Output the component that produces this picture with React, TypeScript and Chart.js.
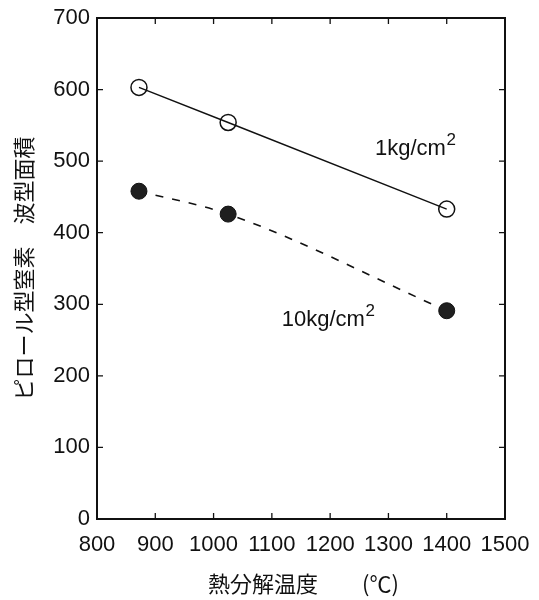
import React, { useEffect, useRef } from 'react';
import { Chart, registerables } from 'chart.js';

Chart.register(...registerables);

// ---- data ----
const temps1kg = [872, 1025, 1400];
const area1kg = [603, 554, 433];
const temps10kg = [872, 1025, 1400];
const area10kg = [458, 426, 291];

const yAxisTitle = 'ピロール型窒素　波型面積';
const xAxisTitle = ' 熱分解温度　　(℃)';

const seriesLabels = ['1kg/cm', '10kg/cm'];
const labelSup = '2';
// label anchor positions in data units (temperature, area)
const labelX = [1277, 1117];
const labelY = [508, 270];

const FONT = "'Liberation Sans', Arial, Helvetica, sans-serif";
const CJK = "'Noto Sans CJK JP', 'Liberation Sans', sans-serif";

const framePlugin = {
  id: 'frameTicks',
  afterDraw(chart: any) {
    const { ctx, chartArea: a, scales } = chart;
    const xs = scales.x;
    const ys = scales.y;
    ctx.save();
    ctx.strokeStyle = '#111';
    ctx.lineWidth = 2;
    ctx.strokeRect(a.left, a.top, a.right - a.left, a.bottom - a.top);
    ctx.lineWidth = 1.3;
    const len = 6;
    ctx.beginPath();
    xs.ticks.forEach((t: any) => {
      const px = xs.getPixelForValue(t.value);
      if (px <= a.left + 1 || px >= a.right - 1) return;
      ctx.moveTo(px, a.bottom);
      ctx.lineTo(px, a.bottom - len);
      ctx.moveTo(px, a.top);
      ctx.lineTo(px, a.top + len);
    });
    ys.ticks.forEach((t: any) => {
      const py = ys.getPixelForValue(t.value);
      if (py <= a.top + 1 || py >= a.bottom - 1) return;
      ctx.moveTo(a.left, py);
      ctx.lineTo(a.left + len, py);
      ctx.moveTo(a.right, py);
      ctx.lineTo(a.right - len, py);
    });
    ctx.stroke();

    // series labels
    ctx.fillStyle = '#111';
    ctx.textBaseline = 'alphabetic';
    ctx.textAlign = 'left';
    seriesLabels.forEach((txt, i) => {
      const px = xs.getPixelForValue(labelX[i]);
      const py = ys.getPixelForValue(labelY[i]);
      ctx.font = `22px ${FONT}`;
      ctx.fillText(txt, px, py);
      const w = ctx.measureText(txt).width;
      ctx.font = `17px ${FONT}`;
      ctx.fillText(labelSup, px + w + 0.5, py - 10);
    });
    ctx.restore();
  },
};

export default function App() {
  const ref = useRef<HTMLCanvasElement | null>(null);

  useEffect(() => {
    document.body.style.margin = '0';
    const canvas = ref.current;
    if (!canvas) return;
    const chart = new Chart(canvas, {
      type: 'scatter',
      data: {
        datasets: [
          {
            label: '1kg/cm2',
            data: temps1kg.map((x, i) => ({ x, y: area1kg[i] })),
            showLine: true,
            borderColor: '#111',
            borderWidth: 1.4,
            backgroundColor: 'rgba(0,0,0,0)',
            pointRadius: 8,
            pointBorderWidth: 1.5,
            pointBorderColor: '#111',
            pointBackgroundColor: 'rgba(0,0,0,0)',
            tension: 0,
          },
          {
            label: '10kg/cm2',
            data: temps10kg.map((x, i) => ({ x, y: area10kg[i] })),
            showLine: true,
            borderColor: '#111',
            borderWidth: 1.6,
            borderDash: [8, 9],
            backgroundColor: '#1a1a1a',
            pointRadius: 8,
            pointBorderWidth: 1,
            pointBorderColor: '#111',
            pointBackgroundColor: '#1f1f1f',
            cubicInterpolationMode: 'monotone',
          },
        ],
      },
      options: {
        responsive: false,
        animation: false,
        events: [],
        layout: { padding: { left: 0, top: 18, right: 34, bottom: 0 } },
        plugins: {
          legend: { display: false },
          tooltip: { enabled: false },
          title: { display: false },
        },
        scales: {
          x: {
            type: 'linear',
            min: 800,
            max: 1500,
            grid: { display: false, drawTicks: false },
            border: { display: false },
            ticks: {
              stepSize: 100,
              autoSkip: false,
              maxRotation: 0,
              minRotation: 0,
              padding: 13,
              color: '#111',
              font: { family: FONT, size: 22 },
              callback: (v: any) => String(v),
            },
            title: {
              display: true,
              text: xAxisTitle,
              color: '#111',
              font: { family: CJK, size: 22 },
              padding: { top: 0, bottom: 3 },
            },
            afterFit: (s: any) => {
              s.height = 81;
              s.paddingLeft = 0;
              s.paddingRight = 0;
            },
          },
          y: {
            type: 'linear',
            min: 0,
            max: 700,
            grid: { display: false, drawTicks: false },
            border: { display: false },
            ticks: {
              stepSize: 100,
              padding: 7,
              color: '#111',
              font: { family: FONT, size: 22 },
              callback: (v: any) => String(v),
            },
            title: {
              display: true,
              text: yAxisTitle,
              color: '#111',
              font: { family: CJK, size: 22 },
              padding: { top: 10, bottom: 0 },
            },
            afterFit: (s: any) => {
              s.width = 97;
              s.paddingTop = 0;
              s.paddingBottom = 0;
            },
          },
        },
      },
      plugins: [framePlugin],
    });
    return () => chart.destroy();
  }, []);

  return (
    <div style={{ position: 'absolute', left: 0, top: 0, width: 539, height: 600, background: '#fff' }}>
      <canvas ref={ref} width={539} height={600} />
    </div>
  );
}
